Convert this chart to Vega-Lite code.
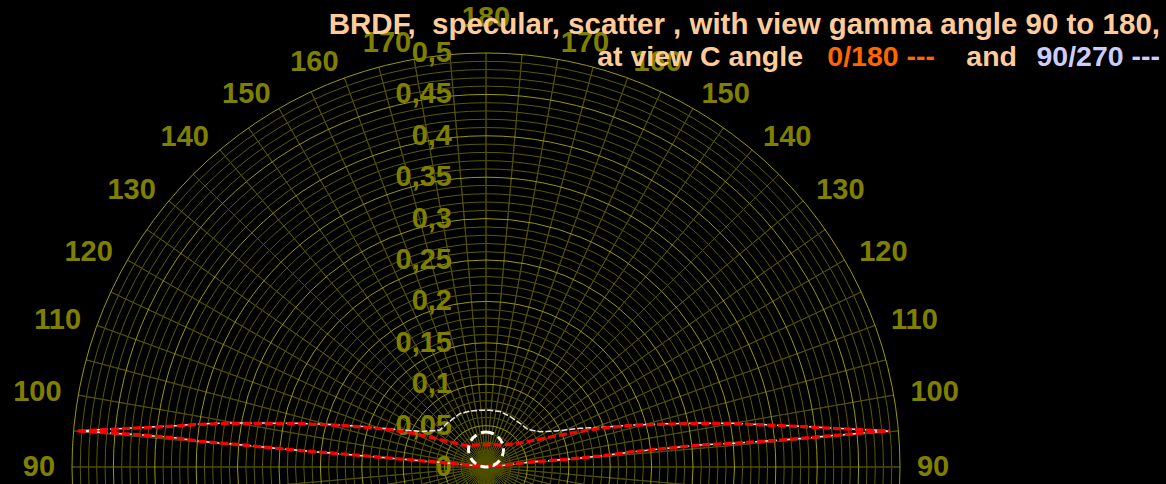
{
  "$schema": "https://vega.github.io/schema/vega-lite/v6.json",
  "width": 1166,
  "height": 484,
  "padding": 0,
  "autosize": {"type": "none"},
  "background": "#000000",
  "config": {"view": {"stroke": null}, "text": {"font": "Liberation Sans", "fontWeight": "bold"}},
  "datasets": {
    "minor": [{"r":0.01},{"r":0.02},{"r":0.03},{"r":0.04},{"r":0.06},{"r":0.07},{"r":0.08},{"r":0.09},{"r":0.11},{"r":0.12},{"r":0.13},{"r":0.14},{"r":0.16},{"r":0.17},{"r":0.18},{"r":0.19},{"r":0.21},{"r":0.22},{"r":0.23},{"r":0.24},{"r":0.26},{"r":0.27},{"r":0.28},{"r":0.29},{"r":0.31},{"r":0.32},{"r":0.33},{"r":0.34},{"r":0.36},{"r":0.37},{"r":0.38},{"r":0.39},{"r":0.41},{"r":0.42},{"r":0.43},{"r":0.44},{"r":0.46},{"r":0.47},{"r":0.48},{"r":0.49}],
    "major": [{"r":0.05},{"r":0.1},{"r":0.15},{"r":0.2},{"r":0.25},{"r":0.3},{"r":0.35},{"r":0.4},{"r":0.45},{"r":0.5}],
    "spokes": [{"a":0},{"a":5},{"a":10},{"a":15},{"a":20},{"a":25},{"a":30},{"a":35},{"a":40},{"a":45},{"a":50},{"a":55},{"a":60},{"a":65},{"a":70},{"a":75},{"a":80},{"a":85},{"a":90},{"a":95},{"a":100},{"a":105},{"a":110},{"a":115},{"a":120},{"a":125},{"a":130},{"a":135},{"a":140},{"a":145},{"a":150},{"a":155},{"a":160},{"a":165},{"a":170},{"a":175},{"a":180},{"a":185},{"a":190},{"a":195},{"a":200},{"a":205},{"a":210},{"a":215},{"a":220},{"a":225},{"a":230},{"a":235},{"a":240},{"a":245},{"a":250},{"a":255},{"a":260},{"a":265},{"a":270},{"a":275},{"a":280},{"a":285},{"a":290},{"a":295},{"a":300},{"a":305},{"a":310},{"a":315},{"a":320},{"a":325},{"a":330},{"a":335},{"a":340},{"a":345},{"a":350},{"a":355}],
    "rlabels": [{"r":0,"lab":"0"},{"r":0.05,"lab":"0,05"},{"r":0.1,"lab":"0,1"},{"r":0.15,"lab":"0,15"},{"r":0.2,"lab":"0,2"},{"r":0.25,"lab":"0,25"},{"r":0.3,"lab":"0,3"},{"r":0.35,"lab":"0,35"},{"r":0.4,"lab":"0,4"},{"r":0.45,"lab":"0,45"},{"r":0.5,"lab":"0,5"}],
    "leftlab": [{"g":"90","pa":270},{"g":"100","pa":280},{"g":"110","pa":290},{"g":"120","pa":300},{"g":"130","pa":310},{"g":"140","pa":320},{"g":"150","pa":330},{"g":"160","pa":340},{"g":"170","pa":350}],
    "rightlab": [{"g":"90","pa":90},{"g":"100","pa":80},{"g":"110","pa":70},{"g":"120","pa":60},{"g":"130","pa":50},{"g":"140","pa":40},{"g":"150","pa":30},{"g":"160","pa":20},{"g":"170","pa":10}],
    "toplab": [{"g":"180","pa":0}],
    "c0180": [
      {"c":"upper","x":-0.4928,"y":0.0435},{"c":"upper","x":-0.4541,"y":0.0455},{"c":"upper","x":-0.4143,"y":0.0475},{"c":"upper","x":-0.3732,"y":0.0495},{"c":"upper","x":-0.3454,"y":0.0516},{"c":"upper","x":-0.3056,"y":0.0528},{"c":"upper","x":-0.2645,"y":0.0526},{"c":"upper","x":-0.2246,"y":0.0523},{"c":"upper","x":-0.1848,"y":0.0507},{"c":"upper","x":-0.1437,"y":0.0479},{"c":"upper","x":-0.1123,"y":0.0447},{"c":"upper","x":-0.0833,"y":0.0399},{"c":"upper","x":-0.0640,"y":0.0350},{"c":"upper","x":-0.0435,"y":0.0302},{"c":"upper","x":-0.0242,"y":0.0260},{"c":"upper","x":0.0,"y":0.0272},{"c":"upper","x":0.0169,"y":0.0266},{"c":"upper","x":0.0374,"y":0.0284},{"c":"upper","x":0.0568,"y":0.0320},{"c":"upper","x":0.0809,"y":0.0368},{"c":"upper","x":0.1135,"y":0.0429},{"c":"upper","x":0.1377,"y":0.0467},{"c":"upper","x":0.1775,"y":0.0504},{"c":"upper","x":0.2186,"y":0.0519},{"c":"upper","x":0.2585,"y":0.0528},{"c":"upper","x":0.2983,"y":0.0523},{"c":"upper","x":0.3394,"y":0.0507},{"c":"upper","x":0.3792,"y":0.0489},{"c":"upper","x":0.4191,"y":0.0467},{"c":"upper","x":0.4601,"y":0.0447},{"c":"upper","x":0.4879,"y":0.0435},
      {"c":"lower","x":-0.4928,"y":0.0435},{"c":"lower","x":-0.4541,"y":0.0412},{"c":"lower","x":-0.4143,"y":0.0386},{"c":"lower","x":-0.3732,"y":0.0350},{"c":"lower","x":-0.3454,"y":0.0310},{"c":"lower","x":-0.3056,"y":0.0278},{"c":"lower","x":-0.2645,"y":0.0237},{"c":"lower","x":-0.2246,"y":0.0199},{"c":"lower","x":-0.1848,"y":0.0167},{"c":"lower","x":-0.1437,"y":0.0133},{"c":"lower","x":-0.1039,"y":0.0097},{"c":"lower","x":-0.0640,"y":0.0064},{"c":"lower","x":-0.0314,"y":0.0033},{"c":"lower","x":0.0,"y":0.0006},{"c":"lower","x":0.0169,"y":0.0016},{"c":"lower","x":0.0568,"y":0.0064},{"c":"lower","x":0.0978,"y":0.0093},{"c":"lower","x":0.1377,"y":0.0133},{"c":"lower","x":0.1775,"y":0.0185},{"c":"lower","x":0.2186,"y":0.0226},{"c":"lower","x":0.2585,"y":0.0266},{"c":"lower","x":0.2983,"y":0.0286},{"c":"lower","x":0.3394,"y":0.0314},{"c":"lower","x":0.3792,"y":0.0344},{"c":"lower","x":0.4191,"y":0.0380},{"c":"lower","x":0.4601,"y":0.0417},{"c":"lower","x":0.4879,"y":0.0435}
    ],
    "c90270": [
      {"c":"upper","x":-0.4928,"y":0.0437},{"c":"upper","x":-0.4541,"y":0.0458},{"c":"upper","x":-0.4143,"y":0.0478},{"c":"upper","x":-0.3732,"y":0.0499},{"c":"upper","x":-0.3454,"y":0.0520},{"c":"upper","x":-0.3056,"y":0.0532},{"c":"upper","x":-0.2645,"y":0.0530},{"c":"upper","x":-0.2246,"y":0.0527},{"c":"upper","x":-0.1848,"y":0.0512},{"c":"upper","x":-0.1437,"y":0.0486},{"c":"upper","x":-0.1039,"y":0.0447},{"c":"upper","x":-0.0761,"y":0.0429},{"c":"upper","x":-0.0556,"y":0.0447},{"c":"upper","x":-0.0471,"y":0.0528},{"c":"upper","x":-0.0314,"y":0.0646},{"c":"upper","x":-0.0193,"y":0.0676},{"c":"upper","x":-0.0072,"y":0.0684},{"c":"upper","x":0.0048,"y":0.0685},{"c":"upper","x":0.0169,"y":0.0670},{"c":"upper","x":0.0290,"y":0.0610},{"c":"upper","x":0.0411,"y":0.0528},{"c":"upper","x":0.0507,"y":0.0453},{"c":"upper","x":0.0652,"y":0.0426},{"c":"upper","x":0.0845,"y":0.0435},{"c":"upper","x":0.1135,"y":0.0467},{"c":"upper","x":0.1377,"y":0.0479},{"c":"upper","x":0.1775,"y":0.0508},{"c":"upper","x":0.2186,"y":0.0522},{"c":"upper","x":0.2585,"y":0.0531},{"c":"upper","x":0.2983,"y":0.0527},{"c":"upper","x":0.3394,"y":0.0511},{"c":"upper","x":0.3792,"y":0.0493},{"c":"upper","x":0.4191,"y":0.0470},{"c":"upper","x":0.4601,"y":0.0450},{"c":"upper","x":0.4879,"y":0.0437},
      {"c":"lower","x":-0.4928,"y":0.0435},{"c":"lower","x":-0.4541,"y":0.0412},{"c":"lower","x":-0.4143,"y":0.0386},{"c":"lower","x":-0.3732,"y":0.0350},{"c":"lower","x":-0.3454,"y":0.0310},{"c":"lower","x":-0.3056,"y":0.0278},{"c":"lower","x":-0.2645,"y":0.0237},{"c":"lower","x":-0.2246,"y":0.0199},{"c":"lower","x":-0.1848,"y":0.0167},{"c":"lower","x":-0.1437,"y":0.0133},{"c":"lower","x":-0.1039,"y":0.0097},{"c":"lower","x":-0.0640,"y":0.0064},{"c":"lower","x":-0.0314,"y":0.0033},{"c":"lower","x":0.0,"y":0.0006},{"c":"lower","x":0.0169,"y":0.0016},{"c":"lower","x":0.0568,"y":0.0064},{"c":"lower","x":0.0978,"y":0.0093},{"c":"lower","x":0.1377,"y":0.0133},{"c":"lower","x":0.1775,"y":0.0185},{"c":"lower","x":0.2186,"y":0.0226},{"c":"lower","x":0.2585,"y":0.0266},{"c":"lower","x":0.2983,"y":0.0286},{"c":"lower","x":0.3394,"y":0.0314},{"c":"lower","x":0.3792,"y":0.0344},{"c":"lower","x":0.4191,"y":0.0380},{"c":"lower","x":0.4601,"y":0.0417},{"c":"lower","x":0.4879,"y":0.0435}
    ]
  },
  "layer": [
    {
      "data": {"name": "minor"},
      "mark": {"type": "arc", "filled": false, "color": "#5a5a00", "strokeWidth": 1},
      "encoding": {
        "x": {"datum": 0, "type": "quantitative", "scale": {"domain": [-0.586957, 0.821256], "nice": false, "zero": false}, "axis": null},
        "y": {"datum": 0, "type": "quantitative", "scale": {"domain": [-0.020531, 0.56401], "nice": false, "zero": false}, "axis": null},
        "theta": {"datum": 0, "type": "quantitative", "scale": {"type": "linear", "domain": [0, 360], "range": [0, 6.283185307179586]}},
        "theta2": {"datum": 360},
        "radius": {"field": "r", "type": "quantitative", "stack": null, "scale": {"type": "linear", "domain": [0, 0.5], "range": [0, 414], "zero": true, "nice": false}}
      }
    },
    {
      "data": {"name": "spokes"},
      "mark": {"type": "arc", "filled": false, "color": "#4f4f00", "strokeWidth": 1},
      "encoding": {
        "x": {"datum": 0, "type": "quantitative", "scale": {"domain": [-0.586957, 0.821256], "nice": false, "zero": false}, "axis": null},
        "y": {"datum": 0, "type": "quantitative", "scale": {"domain": [-0.020531, 0.56401], "nice": false, "zero": false}, "axis": null},
        "theta": {"field": "a", "type": "quantitative", "stack": null, "scale": {"type": "linear", "domain": [0, 360], "range": [0, 6.283185307179586]}},
        "theta2": {"field": "a"},
        "radius": {"datum": 0.5, "type": "quantitative", "scale": {"type": "linear", "domain": [0, 0.5], "range": [0, 414], "zero": true, "nice": false}}
      }
    },
    {
      "data": {"name": "major"},
      "mark": {"type": "arc", "filled": false, "color": "#999900", "strokeWidth": 1},
      "encoding": {
        "x": {"datum": 0, "type": "quantitative", "scale": {"domain": [-0.586957, 0.821256], "nice": false, "zero": false}, "axis": null},
        "y": {"datum": 0, "type": "quantitative", "scale": {"domain": [-0.020531, 0.56401], "nice": false, "zero": false}, "axis": null},
        "theta": {"datum": 0, "type": "quantitative", "scale": {"type": "linear", "domain": [0, 360], "range": [0, 6.283185307179586]}},
        "theta2": {"datum": 360},
        "radius": {"field": "r", "type": "quantitative", "stack": null, "scale": {"type": "linear", "domain": [0, 0.5], "range": [0, 414], "zero": true, "nice": false}}
      }
    },
    {
      "data": {"name": "rlabels"},
      "mark": {"type": "text", "align": "right", "baseline": "middle", "fontSize": 29, "color": "#808000"},
      "encoding": {
        "x": {"datum": -0.0411, "type": "quantitative", "scale": {"domain": [-0.586957, 0.821256], "nice": false, "zero": false}, "axis": null},
        "y": {"field": "r", "type": "quantitative", "scale": {"domain": [-0.020531, 0.56401], "nice": false, "zero": false}, "axis": null},
        "text": {"field": "lab"}
      }
    },
    {
      "data": {"name": "leftlab"},
      "mark": {"type": "text", "align": "right", "baseline": "middle", "fontSize": 29, "color": "#808000"},
      "encoding": {
        "x": {"datum": 0, "type": "quantitative", "scale": {"domain": [-0.586957, 0.821256], "nice": false, "zero": false}, "axis": null},
        "y": {"datum": 0, "type": "quantitative", "scale": {"domain": [-0.020531, 0.56401], "nice": false, "zero": false}, "axis": null},
        "theta": {"field": "pa", "type": "quantitative", "stack": null, "scale": {"type": "linear", "domain": [0, 360], "range": [0, 6.283185307179586]}},
        "radius": {"datum": 0.5205, "type": "quantitative", "stack": null, "scale": {"type": "linear", "domain": [0, 0.5], "range": [0, 414], "zero": true, "nice": false}},
        "text": {"field": "g"}
      }
    },
    {
      "data": {"name": "rightlab"},
      "mark": {"type": "text", "align": "left", "baseline": "middle", "fontSize": 29, "color": "#808000"},
      "encoding": {
        "x": {"datum": 0, "type": "quantitative", "scale": {"domain": [-0.586957, 0.821256], "nice": false, "zero": false}, "axis": null},
        "y": {"datum": 0, "type": "quantitative", "scale": {"domain": [-0.020531, 0.56401], "nice": false, "zero": false}, "axis": null},
        "theta": {"field": "pa", "type": "quantitative", "stack": null, "scale": {"type": "linear", "domain": [0, 360], "range": [0, 6.283185307179586]}},
        "radius": {"datum": 0.5205, "type": "quantitative", "stack": null, "scale": {"type": "linear", "domain": [0, 0.5], "range": [0, 414], "zero": true, "nice": false}},
        "text": {"field": "g"}
      }
    },
    {
      "data": {"name": "toplab"},
      "mark": {"type": "text", "align": "center", "baseline": "middle", "fontSize": 29, "color": "#808000"},
      "encoding": {
        "x": {"datum": 0, "type": "quantitative", "scale": {"domain": [-0.586957, 0.821256], "nice": false, "zero": false}, "axis": null},
        "y": {"datum": 0, "type": "quantitative", "scale": {"domain": [-0.020531, 0.56401], "nice": false, "zero": false}, "axis": null},
        "theta": {"field": "pa", "type": "quantitative", "stack": null, "scale": {"type": "linear", "domain": [0, 360], "range": [0, 6.283185307179586]}},
        "radius": {"datum": 0.5422, "type": "quantitative", "stack": null, "scale": {"type": "linear", "domain": [0, 0.5], "range": [0, 414], "zero": true, "nice": false}},
        "text": {"field": "g"}
      }
    },
    {
      "data": {"name": "c90270"},
      "mark": {"type": "line", "color": "#e8e0f0", "strokeWidth": 1.5, "strokeDash": [6, 2]},
      "encoding": {
        "x": {"field": "x", "type": "quantitative", "scale": {"domain": [-0.586957, 0.821256], "nice": false, "zero": false}, "axis": null},
        "y": {"field": "y", "type": "quantitative", "scale": {"domain": [-0.020531, 0.56401], "nice": false, "zero": false}, "axis": null},
        "detail": {"field": "c"}
      }
    },
    {
      "data": {"name": "c0180"},
      "mark": {"type": "line", "color": "#ff0000", "strokeWidth": 3.2, "strokeDash": [8, 3]},
      "encoding": {
        "x": {"field": "x", "type": "quantitative", "scale": {"domain": [-0.586957, 0.821256], "nice": false, "zero": false}, "axis": null},
        "y": {"field": "y", "type": "quantitative", "scale": {"domain": [-0.020531, 0.56401], "nice": false, "zero": false}, "axis": null},
        "detail": {"field": "c"}
      }
    },
    {
      "data": {"values": [{"rr": 0.0211, "cy": 0.0211}]},
      "mark": {"type": "arc", "filled": false, "color": "#ffffff", "strokeWidth": 3, "strokeDash": [8, 5]},
      "encoding": {
        "x": {"datum": 0, "type": "quantitative", "scale": {"domain": [-0.586957, 0.821256], "nice": false, "zero": false}, "axis": null},
        "y": {"field": "cy", "type": "quantitative", "scale": {"domain": [-0.020531, 0.56401], "nice": false, "zero": false}, "axis": null},
        "theta": {"datum": 0, "type": "quantitative", "scale": {"type": "linear", "domain": [0, 360], "range": [0, 6.283185307179586]}},
        "theta2": {"datum": 360},
        "radius": {"field": "rr", "type": "quantitative", "stack": null, "scale": {"type": "linear", "domain": [0, 0.5], "range": [0, 414], "zero": true, "nice": false}}
      }
    },
    {
      "data": {"values": [{"t": "BRDF,\u00a0 specular, scatter , with view gamma angle 90 to 180,"}]},
      "mark": {"type": "text", "align": "right", "baseline": "middle", "fontSize": 29.5, "color": "#ffcc99"},
      "encoding": {
        "x": {"datum": 0.814, "type": "quantitative", "scale": {"domain": [-0.586957, 0.821256], "nice": false, "zero": false}, "axis": null},
        "y": {"datum": 0.5338, "type": "quantitative", "scale": {"domain": [-0.020531, 0.56401], "nice": false, "zero": false}, "axis": null},
        "text": {"field": "t"}
      }
    },
    {
      "data": {"values": [{"t": "at view C angle"}]},
      "mark": {"type": "text", "align": "right", "baseline": "middle", "fontSize": 28.5, "color": "#ffcc99"},
      "encoding": {
        "x": {"datum": 0.3829, "type": "quantitative", "scale": {"domain": [-0.586957, 0.821256], "nice": false, "zero": false}, "axis": null},
        "y": {"datum": 0.4952, "type": "quantitative", "scale": {"domain": [-0.020531, 0.56401], "nice": false, "zero": false}, "axis": null},
        "text": {"field": "t"}
      }
    },
    {
      "data": {"values": [{"t": "0/180 ---"}]},
      "mark": {"type": "text", "align": "right", "baseline": "middle", "fontSize": 28.5, "color": "#ff6600"},
      "encoding": {
        "x": {"datum": 0.5423, "type": "quantitative", "scale": {"domain": [-0.586957, 0.821256], "nice": false, "zero": false}, "axis": null},
        "y": {"datum": 0.4952, "type": "quantitative", "scale": {"domain": [-0.020531, 0.56401], "nice": false, "zero": false}, "axis": null},
        "text": {"field": "t"}
      }
    },
    {
      "data": {"values": [{"t": "and"}]},
      "mark": {"type": "text", "align": "right", "baseline": "middle", "fontSize": 28.5, "color": "#ffcc99"},
      "encoding": {
        "x": {"datum": 0.6413, "type": "quantitative", "scale": {"domain": [-0.586957, 0.821256], "nice": false, "zero": false}, "axis": null},
        "y": {"datum": 0.4952, "type": "quantitative", "scale": {"domain": [-0.020531, 0.56401], "nice": false, "zero": false}, "axis": null},
        "text": {"field": "t"}
      }
    },
    {
      "data": {"values": [{"t": "90/270 ---"}]},
      "mark": {"type": "text", "align": "right", "baseline": "middle", "fontSize": 28.5, "color": "#ccccff"},
      "encoding": {
        "x": {"datum": 0.814, "type": "quantitative", "scale": {"domain": [-0.586957, 0.821256], "nice": false, "zero": false}, "axis": null},
        "y": {"datum": 0.4952, "type": "quantitative", "scale": {"domain": [-0.020531, 0.56401], "nice": false, "zero": false}, "axis": null},
        "text": {"field": "t"}
      }
    }
  ]
}
